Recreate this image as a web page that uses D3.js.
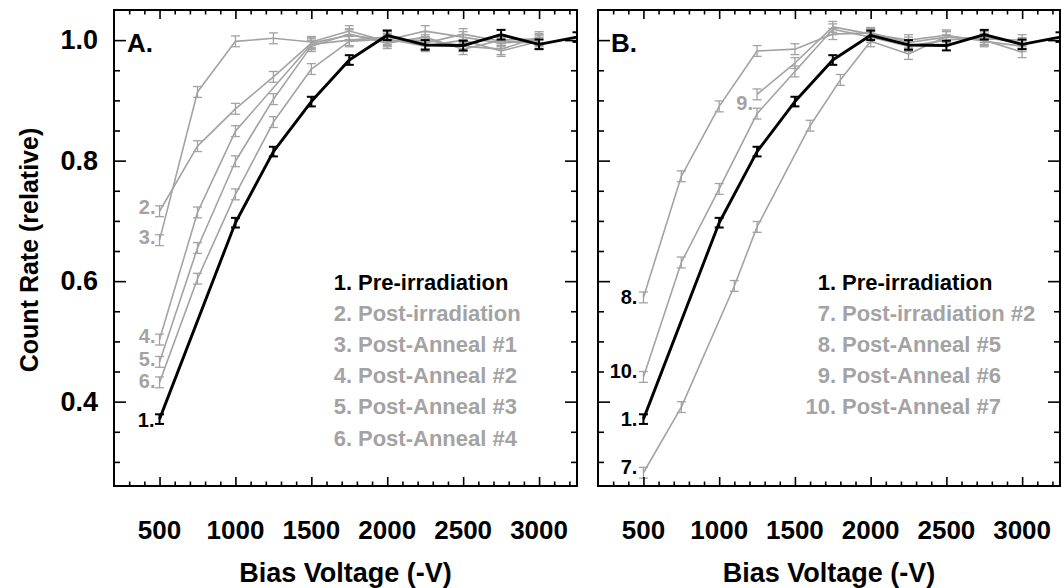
<!DOCTYPE html>
<html>
<head>
<meta charset="utf-8">
<script src="https://cdn.jsdelivr.net/npm/d3@7/dist/d3.min.js"></script>
<style>
  html, body { margin: 0; padding: 0; background: #fff; }
  svg { display: block; }
  text { font-family: "Liberation Sans", Arial, Helvetica, sans-serif; font-weight: bold; }
</style>
</head>
<body>
<svg id="chart" width="1061" height="588"></svg>
<script>
// ---------------- data ----------------
const voltGrid = [500, 750, 1000, 1250, 1500, 1750, 2000, 2250, 2500, 2750, 3000];

// 1. Pre-irradiation (shown in both panels)
const preX = [500, 1000, 1250, 1500, 1750, 2000, 2250, 2500, 2750, 3000, 3250];
const preY = [0.371, 0.697, 0.815, 0.898, 0.967, 1.008, 0.992, 0.991, 1.009, 0.993, 1.005];

// Panel A
const postIrrY   = [0.716, 0.824, 0.886, 0.939, 0.995, 1.008, 1.000, 1.015, 1.005, 0.995, 1.000];
const anneal1Y   = [0.668, 0.914, 0.998, 1.003, 0.997, 1.015, 0.998, 1.000, 0.990, 0.985, 1.005];
const anneal2X   = [500, 750, 1000, 1500, 1750, 2000, 2250, 2500, 2750, 3000];
const anneal2Y   = [0.503, 0.714, 0.849, 0.993, 1.000, 1.005, 0.995, 1.010, 0.998, 0.995];
const anneal3Y   = [0.466, 0.655, 0.799, 0.902, 0.990, 1.010, 0.995, 1.005, 0.985, 1.000, 1.002];
const anneal4Y   = [0.432, 0.604, 0.744, 0.864, 0.952, 0.998, 1.002, 0.990, 1.000, 0.982, 0.998];

// Panel B
const postIrr2X  = [500, 750, 1100, 1250, 1600, 1800, 2000, 2250, 2500, 2750, 3000];
const postIrr2Y  = [0.282, 0.391, 0.592, 0.690, 0.858, 0.934, 0.998, 0.977, 1.006, 1.000, 0.980];
const anneal5Y   = [0.573, 0.774, 0.890, 0.982, 0.985, 1.010, 1.012, 0.996, 1.005, 1.002, 1.000];
const anneal6X   = [1250, 1500, 1750, 2000, 2250, 2500, 2750, 3000];
const anneal6Y   = [0.910, 0.962, 1.022, 1.010, 1.000, 1.008, 0.998, 0.990];
const anneal7Y   = [0.441, 0.631, 0.753, 0.878, 0.948, 1.018, 1.005, 0.990, 1.000, 1.005, 0.995];

const errBlack = 0.008;
const errGrey = 0.009;

const xTicks = [500, 1000, 1500, 2000, 2500, 3000];
const yTicks = [0.4, 0.6, 0.8, 1.0];
const yTickLabels = ["0.4", "0.6", "0.8", "1.0"];

const legendA = ["1. Pre-irradiation", "2. Post-irradiation", "3. Post-Anneal #1", "4. Post-Anneal #2", "5. Post-Anneal #3", "6. Post-Anneal #4"];
const legendB = ["1. Pre-irradiation", "7. Post-irradiation #2", "8. Post-Anneal #5", "9. Post-Anneal #6", "10. Post-Anneal #7"];

// ---------------- drawing ----------------
const GREY = "#a3a3a3";
const svg = d3.select("#chart");

const plotTop = 10, plotBottom = 486;
const panels = [
  {
    left: 114, right: 577, letter: "A.",
    series: [
      {x: voltGrid, y: postIrrY, c: GREY, label: "2.", lc: GREY, ldx: -4, ldy: -4},
      {x: voltGrid, y: anneal1Y, c: GREY, label: "3.", lc: GREY, ldx: -4, ldy: -3},
      {x: anneal2X, y: anneal2Y, c: GREY, label: "4.", lc: GREY, ldx: -4, ldy: -4},
      {x: voltGrid, y: anneal3Y, c: GREY, label: "5.", lc: GREY, ldx: -4, ldy: -3},
      {x: voltGrid, y: anneal4Y, c: GREY, label: "6.", lc: GREY, ldx: -4, ldy: -1},
      {x: preX, y: preY, c: "#000", black: true, label: "1.", lc: "#000", ldx: -5, ldy: 1}
    ],
    legend: legendA
  },
  {
    left: 598, right: 1060, letter: "B.",
    series: [
      {x: postIrr2X, y: postIrr2Y, c: GREY, label: "7.", lc: "#000", ldx: -6, ldy: -6},
      {x: voltGrid, y: anneal5Y, c: GREY, label: "8.", lc: "#000", ldx: -6, ldy: 0},
      {x: anneal6X, y: anneal6Y, c: GREY, label: "9.", lc: GREY, ldx: -4, ldy: 9},
      {x: voltGrid, y: anneal7Y, c: GREY, label: "10.", lc: "#000", ldx: -6, ldy: -6},
      {x: preX, y: preY, c: "#000", black: true, label: "1.", lc: "#000", ldx: -6, ldy: 0}
    ],
    legend: legendB
  }
];

panels.forEach((p, pi) => {
  const x = d3.scaleLinear().domain([200, 3250]).range([p.left, p.right]);
  const y = d3.scaleLinear().domain([0.26, 1.05]).range([plotBottom, plotTop]);
  const g = svg.append("g");

  const clipId = "clip" + pi;
  svg.append("clipPath").attr("id", clipId).append("rect")
    .attr("x", p.left).attr("y", plotTop).attr("width", p.right - p.left).attr("height", plotBottom - plotTop);

  const plot = g.append("g").attr("clip-path", `url(#${clipId})`);

  p.series.forEach(s => {
    const pts = s.x.map((v, i) => [v, s.y[i]]);
    const line = d3.line().x(d => x(d[0])).y(d => y(d[1]));
    plot.append("path").datum(pts)
      .attr("d", line).attr("fill", "none")
      .attr("stroke", s.c).attr("stroke-width", s.black ? 2.9 : 1.6)
      .attr("stroke-linejoin", "round");
    const e = s.black ? errBlack : errGrey;
    const eb = plot.append("g").attr("stroke", s.c).attr("stroke-width", s.black ? 2 : 1.3);
    pts.forEach(d => {
      const cx = x(d[0]);
      eb.append("line").attr("x1", cx).attr("x2", cx).attr("y1", y(d[1] - e)).attr("y2", y(d[1] + e));
      eb.append("line").attr("x1", cx - 4.5).attr("x2", cx + 4.5).attr("y1", y(d[1] - e)).attr("y2", y(d[1] - e));
      eb.append("line").attr("x1", cx - 4.5).attr("x2", cx + 4.5).attr("y1", y(d[1] + e)).attr("y2", y(d[1] + e));
    });
    g.append("text")
      .attr("x", x(s.x[0]) + s.ldx).attr("y", y(s.y[0]) + s.ldy)
      .attr("text-anchor", "end").attr("dominant-baseline", "central")
      .attr("font-size", 20).attr("fill", s.lc).text(s.label);
  });

  const minorXv = d3.range(300, 3250, 100).filter(v => v % 500 !== 0);
  const minorYv = d3.range(0.3, 1.05, 0.05).map(v => +v.toFixed(2)).filter(v => !yTicks.includes(v));
  const axes = [
    [d3.axisBottom(x).tickValues(xTicks).tickSize(-9), `translate(0,${plotBottom})`],
    [d3.axisBottom(x).tickValues(minorXv).tickSize(-4.5), `translate(0,${plotBottom})`],
    [d3.axisTop(x).tickValues(xTicks).tickSize(-9), `translate(0,${plotTop})`],
    [d3.axisTop(x).tickValues(minorXv).tickSize(-4.5), `translate(0,${plotTop})`],
    [d3.axisLeft(y).tickValues(yTicks).tickSize(-12), `translate(${p.left},0)`],
    [d3.axisLeft(y).tickValues(minorYv).tickSize(-6), `translate(${p.left},0)`],
    [d3.axisRight(y).tickValues(yTicks).tickSize(-12), `translate(${p.right},0)`],
    [d3.axisRight(y).tickValues(minorYv).tickSize(-6), `translate(${p.right},0)`]
  ];
  const axG = g.append("g");
  axes.forEach(([ax, tr]) => {
    const a = axG.append("g").attr("transform", tr).call(ax.tickFormat(""));
    a.select(".domain").remove();
    a.selectAll(".tick line").attr("stroke", "#000").attr("stroke-width", 1.6);
  });

  g.append("rect").attr("x", p.left).attr("y", plotTop)
    .attr("width", p.right - p.left).attr("height", plotBottom - plotTop)
    .attr("fill", "none").attr("stroke", "#000").attr("stroke-width", 2);

  g.append("g").selectAll("text").data(xTicks).join("text")
    .attr("x", d => x(d)).attr("y", 539)
    .attr("text-anchor", "middle").attr("font-size", 26).attr("fill", "#000")
    .text(d => d);

  g.append("text").attr("x", (p.left + p.right) / 2).attr("y", 582)
    .attr("text-anchor", "middle").attr("font-size", 27).attr("fill", "#000")
    .text("Bias Voltage (-V)");

  g.append("text").attr("x", p.left + 13).attr("y", 52)
    .attr("font-size", 26).attr("fill", "#000").text(p.letter);

  const lx = pi === 0 ? 352 : 836;
  p.legend.forEach((t, i) => {
    const sp = t.indexOf(" ");
    const num = t.slice(0, sp), name = t.slice(sp + 1);
    const col = i === 0 ? "#000" : GREY;
    const ty = 282 + i * 31.2;
    g.append("text").attr("x", lx).attr("y", ty).attr("text-anchor", "end")
      .attr("dominant-baseline", "central").attr("font-size", 22).attr("fill", col).text(num);
    g.append("text").attr("x", lx + 6).attr("y", ty)
      .attr("dominant-baseline", "central").attr("font-size", 22).attr("fill", col).text(name);
  });

  if (pi === 0) {
    g.append("g").selectAll("text").data(yTicks).join("text")
      .attr("x", 98).attr("y", d => y(d))
      .attr("text-anchor", "end").attr("dominant-baseline", "central")
      .attr("font-size", 27).attr("fill", "#000")
      .text((d, i) => yTickLabels[i]);
  }
});

svg.append("text").attr("transform", "translate(38,250) rotate(-90)")
  .attr("text-anchor", "middle").attr("font-size", 25).attr("fill", "#000")
  .text("Count Rate (relative)");
</script>
</body>
</html>
